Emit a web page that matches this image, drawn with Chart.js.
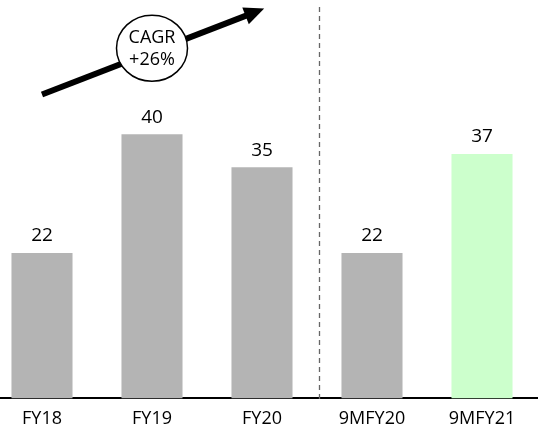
<!DOCTYPE html>
<html>
<head>
<meta charset="utf-8">
<script src="https://cdn.jsdelivr.net/npm/chart.js@4"></script>
<style>
    html, body { margin: 0; padding: 0; background: #fff; overflow: hidden; }
    #wrap { position: absolute; left: -13px; top: 0; width: 566px; height: 440px; }
</style>
</head>
<body>
<div id="wrap"><canvas id="revChart" width="566" height="440"></canvas></div>
<script>
const periods = ['FY18', 'FY19', 'FY20', '9MFY20', '9MFY21'];
const values = [22, 40, 35, 22, 37];
const highlightIndex = 4;          // 9MFY21 bar in green
const cagrText = ['CAGR', '+26%'];

// annotation anchors in data units (category index, value)
const arrowFrom = { x: 0, y: 46 };
const arrowTo = { x: 2.02, y: 59 };
const cagrAt = { x: 1, y: 53 };
const splitAt = 2.52;              // dashed divider between FY and 9M periods

const FONT = '"Open Sans", "DejaVu Sans", sans-serif';

const overlay = {
    id: 'overlay',
    afterDatasetsDraw(chart) {
        const c = chart.ctx;
        const xs = chart.scales.x, ys = chart.scales.y;
        const area = chart.chartArea;
        c.save();

        // value labels above the bars
        c.font = '19px ' + FONT;
        c.fillStyle = '#000';
        c.textAlign = 'center';
        c.textBaseline = 'middle';
        chart.getDatasetMeta(0).data.forEach((bar, i) => {
            c.fillText(String(values[i]), bar.x, bar.y - 17);
        });

        // dashed divider
        const sx = Math.round(xs.getPixelForValue(splitAt)) + 0.5;
        c.strokeStyle = '#666';
        c.lineWidth = 1.3;
        c.setLineDash([5, 4]);
        c.beginPath();
        c.moveTo(sx, area.top + 5);
        c.lineTo(sx, area.bottom + 2);
        c.stroke();
        c.setLineDash([]);

        // growth arrow
        const x1 = xs.getPixelForValue(arrowFrom.x), y1 = ys.getPixelForValue(arrowFrom.y);
        const x2 = xs.getPixelForValue(arrowTo.x), y2 = ys.getPixelForValue(arrowTo.y);
        const ang = Math.atan2(y2 - y1, x2 - x1);
        const headLen = 20, headW = 9;
        const bx = x2 - headLen * Math.cos(ang), by = y2 - headLen * Math.sin(ang);
        c.strokeStyle = '#000';
        c.lineWidth = 6;
        c.lineCap = 'butt';
        c.beginPath();
        c.moveTo(x1, y1);
        c.lineTo(bx + 2 * Math.cos(ang), by + 2 * Math.sin(ang));
        c.stroke();
        c.fillStyle = '#000';
        c.beginPath();
        c.moveTo(x2, y2);
        c.lineTo(bx + headW * Math.sin(ang), by - headW * Math.cos(ang));
        c.lineTo(bx - headW * Math.sin(ang), by + headW * Math.cos(ang));
        c.closePath();
        c.fill();

        // CAGR bubble
        const cx = xs.getPixelForValue(cagrAt.x), cy = ys.getPixelForValue(cagrAt.y);
        c.beginPath();
        c.ellipse(cx, cy, 35.5, 33, 0, 0, Math.PI * 2);
        c.fillStyle = '#fff';
        c.fill();
        c.lineWidth = 1.5;
        c.strokeStyle = '#000';
        c.stroke();
        c.fillStyle = '#000';
        c.font = '18px ' + FONT;
        c.fillText(cagrText[0], cx, cy - 10);
        c.fillText(cagrText[1], cx, cy + 12);

        c.restore();
    }
};

const ctx = document.getElementById('revChart').getContext('2d');
const revChart = new Chart(ctx, {
    type: 'bar',
    data: {
        labels: periods,
        datasets: [{
            data: values,
            backgroundColor: values.map((v, i) => i === highlightIndex ? '#ccffcc' : '#b4b4b4'),
            borderWidth: 0,
            categoryPercentage: 1,
            barPercentage: 0.555
        }]
    },
    options: {
        responsive: false,
        animation: false,
        layout: { padding: { top: 2, right: 16, left: 0, bottom: 0 } },
        plugins: {
            legend: { display: false },
            tooltip: { enabled: false }
        },
        scales: {
            x: {
                grid: { display: false, drawTicks: false },
                border: { display: true, color: '#000', width: 2 },
                ticks: { color: '#000', font: { family: FONT, size: 18 }, padding: 10 }
            },
            y: {
                display: false,
                min: 0,
                max: 60
            }
        }
    },
    plugins: [overlay]
});
</script>
</body>
</html>
